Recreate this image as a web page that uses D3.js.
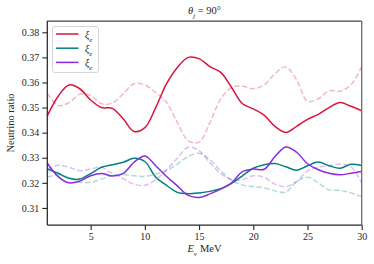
<!DOCTYPE html>
<html><head><meta charset="utf-8">
<script src="https://cdn.jsdelivr.net/npm/d3@7"></script>
<style>
body{margin:0;background:#fff;}
text{font-family:"Liberation Serif","DejaVu Serif",serif;fill:#262626;}
</style></head><body>
<svg id="c" width="374" height="264"></svg>
<script>
const energies = d3.range(1, 31);
const xiE_solid  = [0.3467,0.3545,0.3590,0.3575,0.3530,0.3500,0.3497,0.3455,0.3405,0.3420,0.3500,0.3595,0.3660,0.3700,0.3695,0.3663,0.3640,0.3580,0.3515,0.3495,0.3470,0.3425,0.3401,0.3425,0.3453,0.3473,0.3500,0.3520,0.3505,0.3487];
const xiE_dashed = [0.3557,0.3508,0.3520,0.3553,0.3548,0.3515,0.3518,0.3555,0.3595,0.3590,0.3560,0.3520,0.3440,0.3368,0.3362,0.3440,0.3535,0.3580,0.3585,0.3575,0.3590,0.3635,0.3662,0.3610,0.3525,0.3535,0.3567,0.3565,0.3590,0.3663];
const xiM_solid  = [0.3255,0.3238,0.3218,0.3215,0.3237,0.3262,0.3272,0.3282,0.3298,0.3285,0.3222,0.3190,0.3162,0.3157,0.3160,0.3166,0.3177,0.3198,0.3228,0.3258,0.3272,0.3277,0.3264,0.3250,0.3268,0.3283,0.3268,0.3258,0.3274,0.3269];
const xiM_dashed = [0.3222,0.3232,0.3222,0.3202,0.3202,0.3215,0.3230,0.3233,0.3228,0.3226,0.3235,0.3248,0.3275,0.3305,0.3318,0.3292,0.3248,0.3210,0.3192,0.3185,0.3180,0.3168,0.3163,0.3205,0.3222,0.3199,0.3172,0.3170,0.3160,0.3145];
const xiT_solid  = [0.3278,0.3225,0.3200,0.3207,0.3228,0.3237,0.3227,0.3238,0.3282,0.3307,0.3268,0.3225,0.3188,0.3150,0.3142,0.3156,0.3175,0.3200,0.3245,0.3255,0.3254,0.3305,0.3343,0.3322,0.3276,0.3252,0.3238,0.3232,0.3238,0.3245];
const xiT_dashed = [0.3252,0.3270,0.3262,0.3248,0.3255,0.3262,0.3238,0.3217,0.3195,0.3190,0.3213,0.3252,0.3298,0.3342,0.3328,0.3280,0.3237,0.3213,0.3212,0.3228,0.3222,0.3195,0.3185,0.3205,0.3248,0.3262,0.3268,0.3275,0.3265,0.3199];
const seriesColors = ["#DC143C","#008080","#8A2BE2"];
const legendLabels = ["e","e","e"];
const xTicks = [5,10,15,20,25,30];
const yTicks = [0.31,0.32,0.33,0.34,0.35,0.36,0.37,0.38];

const svg = d3.select("#c");
const L=47.3,R=361.7,T=21,B=225;
const x = d3.scaleLinear().domain([1,30]).range([L,R]);
const y = d3.scaleLinear().domain([0.3032,0.3845]).range([B,T]);

const line = d3.line().x((d,i)=>x(energies[i])).y(d=>y(d)).curve(d3.curveCatmullRom.alpha(0.5));

const g = svg.append("g");
const dashed = [xiE_dashed, xiM_dashed, xiT_dashed];
const solid = [xiE_solid, xiM_solid, xiT_solid];
dashed.forEach((s,i)=>{
  g.append("path").attr("d",line(s)).attr("fill","none").attr("stroke",seriesColors[i])
   .attr("stroke-opacity",0.3).attr("stroke-width",1.5).attr("stroke-dasharray","5.5,2.4");
});
solid.forEach((s,i)=>{
  g.append("path").attr("d",line(s)).attr("fill","none").attr("stroke",seriesColors[i])
   .attr("stroke-width",1.5);
});

// spines
svg.append("line").attr("x1",L).attr("x2",R).attr("y1",T).attr("y2",T).attr("stroke","#444").attr("stroke-width",1.25);
svg.append("line").attr("x1",R).attr("x2",R).attr("y1",T).attr("y2",B).attr("stroke","#666").attr("stroke-width",1.25);

const xAxis = svg.append("g").attr("transform",`translate(0,${B})`)
  .call(d3.axisBottom(x).tickValues(xTicks).tickSize(5).tickPadding(3).tickFormat(d3.format("d")));
const yAxis = svg.append("g").attr("transform",`translate(${L},0)`)
  .call(d3.axisLeft(y).tickValues(yTicks).tickSize(5).tickPadding(3).tickFormat(d3.format(".2f")));
[xAxis,yAxis].forEach(a=>{
  a.select(".domain").attr("stroke","#262626").attr("stroke-width",1.25);
  a.selectAll(".tick line").attr("stroke","#262626").attr("stroke-width",1.1);
  a.selectAll("text").style("font-family","Liberation Serif, serif").style("font-size","10px").attr("fill","#262626");
});
yAxis.select(".domain").attr("d",`M-0,${T}V${B}`);
xAxis.select(".domain").attr("d",`M${L},0H${R}`);

// title
const title = svg.append("text").attr("x",(L+R)/2).attr("y",14).attr("text-anchor","middle").style("font-size","10.5px");
title.append("tspan").style("font-style","italic").text("θ");
title.append("tspan").attr("baseline-shift","sub").style("font-size","7px").style("font-style","italic").text("j");
title.append("tspan").text(" = 90°");

// x label
const xl = svg.append("text").attr("x",(L+R)/2).attr("y",252).attr("text-anchor","middle").style("font-size","10.5px");
xl.append("tspan").style("font-style","italic").text("E");
xl.append("tspan").attr("baseline-shift","sub").style("font-size","7px").style("font-style","italic").text("ν");
xl.append("tspan").attr("dx","3").text("MeV");

// y label
svg.append("text").attr("transform",`translate(14,${(T+B)/2}) rotate(-90)`).attr("text-anchor","middle")
  .style("font-size","10.5px").text("Neutrino ratio");

// legend
const lg = svg.append("g");
lg.append("rect").attr("x",52.5).attr("y",26.5).attr("width",46).attr("height",46).attr("rx",2.5)
  .attr("fill","#fff").attr("fill-opacity",0.8).attr("stroke","#d6d6d6").attr("stroke-width",1);
seriesColors.forEach((c,i)=>{
  const yy = 34 + i*14.2;
  lg.append("line").attr("x1",56).attr("x2",78.5).attr("y1",yy).attr("y2",yy).attr("stroke",c).attr("stroke-width",1.5);
  const t = lg.append("text").attr("x",85).attr("y",yy+3.5).style("font-size","10px");
  t.append("tspan").style("font-style","italic").text("ξ");
  t.append("tspan").attr("baseline-shift","sub").style("font-size","7px").style("font-style","italic").text(legendLabels[i]);
});
</script>
</body></html>
